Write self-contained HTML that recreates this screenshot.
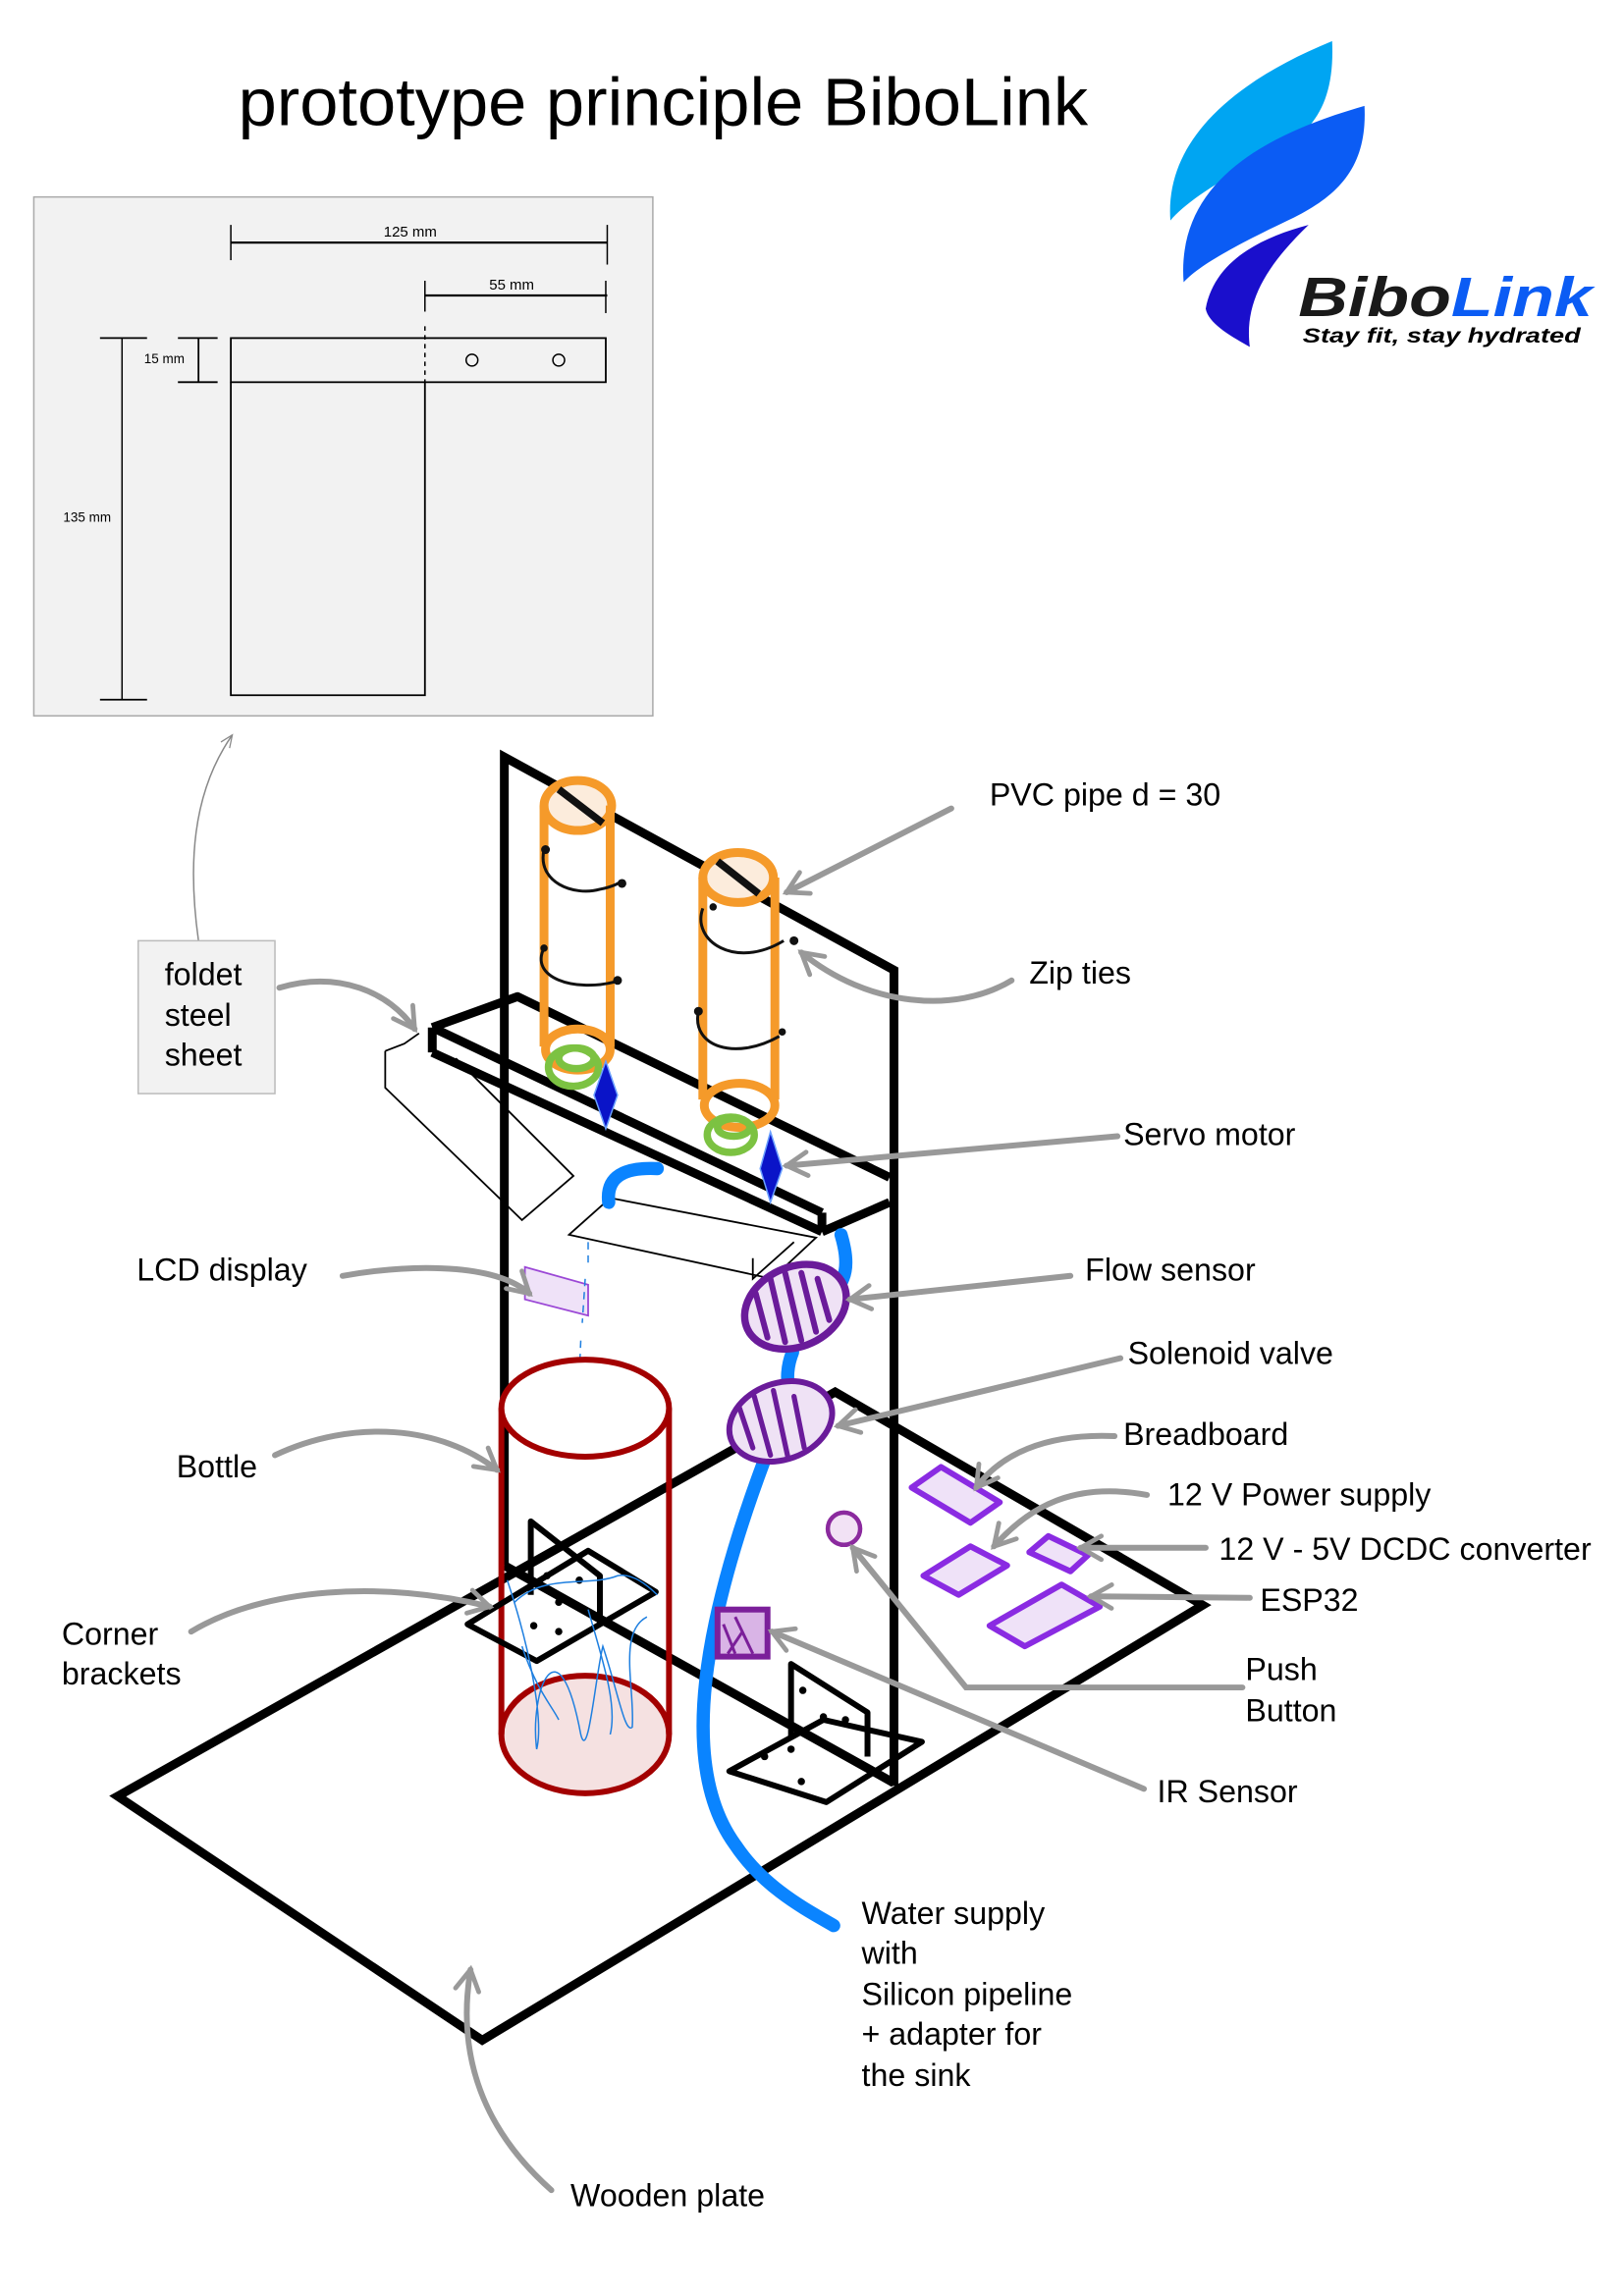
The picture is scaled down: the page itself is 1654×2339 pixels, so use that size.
<!DOCTYPE html>
<html><head><meta charset="utf-8"><style>
html,body{margin:0;padding:0;background:#fff;}
svg{display:block;}
text{font-family:"Liberation Sans",Arial,sans-serif;fill:#000;}
</style></head><body>
<svg width="1654" height="2339" viewBox="0 0 1104.5 1562" preserveAspectRatio="none" xmlns="http://www.w3.org/2000/svg">
<defs>
<marker id="ga" viewBox="0 0 10 10" refX="8" refY="5" markerWidth="5" markerHeight="5" orient="auto"><path d="M1,1 L8,5 L1,9" fill="none" stroke="#999" stroke-width="1.6" stroke-linecap="round"/></marker>
<marker id="ta" viewBox="0 0 10 10" refX="8" refY="5" markerWidth="12" markerHeight="12" orient="auto"><path d="M1,2 L8,5 L1,8" fill="none" stroke="#888" stroke-width="0.7"/></marker>
</defs>
<text x="451" y="85" font-size="46" text-anchor="middle" textLength="578" lengthAdjust="spacingAndGlyphs">prototype principle BiboLink</text>

<!-- drawing box -->
<rect x="23" y="134" width="421" height="353" fill="#f2f2f2" stroke="#aaa" stroke-width="1"/>
<g stroke="#000" fill="none">
<line x1="157" y1="165" x2="413" y2="165" stroke-width="1.5"/>
<line x1="157" y1="153" x2="157" y2="177" stroke-width="1"/>
<line x1="413" y1="153" x2="413" y2="180" stroke-width="1"/>
<line x1="289" y1="201" x2="413" y2="201" stroke-width="1.5"/>
<line x1="289" y1="191" x2="289" y2="212" stroke-width="1"/>
<line x1="412" y1="191" x2="412" y2="213" stroke-width="1"/>
<rect x="157" y="230" width="255" height="30" stroke-width="1.2"/>
<polyline points="157,260 157,473 289,473 289,260" stroke-width="1.2"/>
<line x1="289" y1="222" x2="289" y2="260" stroke-width="1" stroke-dasharray="3,3"/>
<circle cx="321" cy="245" r="4" stroke-width="1"/>
<circle cx="380" cy="245" r="4" stroke-width="1"/>
<line x1="135" y1="230" x2="135" y2="260" stroke-width="1.2"/>
<line x1="121" y1="230" x2="148" y2="230" stroke-width="1.2"/>
<line x1="121" y1="260" x2="148" y2="260" stroke-width="1.2"/>
<line x1="83" y1="230" x2="83" y2="476" stroke-width="1"/>
<line x1="68" y1="230" x2="100" y2="230" stroke-width="1.2"/>
<line x1="68" y1="476" x2="100" y2="476" stroke-width="1.2"/>
</g>
<text x="279" y="161" font-size="10" text-anchor="middle">125 mm</text>
<text x="348" y="197" font-size="10" text-anchor="middle">55 mm</text>
<text x="98" y="247" font-size="9">15 mm</text>
<text x="43" y="355" font-size="9">135 mm</text>

<!-- logo -->
<path d="M796,150 C792,95 840,55 906,28 C908,72 892,92 862,106 C830,122 806,138 796,150Z" fill="#00a5f2"/>
<path d="M805,192 C800,125 858,92 928,72 C930,112 912,132 880,148 C842,166 816,180 805,192Z" fill="#0b5cf4"/>
<path d="M820,210 C826,178 856,162 890,153 C862,180 846,205 850,236 C836,228 822,220 820,210Z" fill="#1a0fcc"/>
<text x="883" y="215" font-size="38" font-weight="bold" font-style="italic" textLength="200" lengthAdjust="spacingAndGlyphs"><tspan fill="#1a1a1a">Bibo</tspan><tspan fill="#0b5cf4">Link</tspan></text>
<text x="886" y="233" font-size="14" font-weight="bold" font-style="italic" fill="#222" textLength="189" lengthAdjust="spacingAndGlyphs">Stay fit, stay hydrated</text>

<!-- base plate -->
<polygon points="80,1222 568,947 818,1092 328,1388" fill="none" stroke="#000" stroke-width="6" stroke-linejoin="miter"/>
<!-- back panel -->
<polyline points="343,1065 343,515 608,660 608,1215" fill="none" stroke="#000" stroke-width="6"/>
<line x1="343" y1="1065" x2="608" y2="1213" stroke="#000" stroke-width="6"/>

<!-- thin sheets -->
<g fill="none" stroke="#000" stroke-width="1.2">
<polyline points="262,715 262,740 355,830 390,800 310,720"/>
<polyline points="262,715 275,710 285,703"/>
<polygon points="387,840 415,815 555,842 525,870"/>
<polyline points="512,856 512,870 540,845"/>
</g>
<!-- shelf -->
<g fill="none" stroke="#000" stroke-width="6" stroke-linejoin="round">
<polyline points="294,699 352,678 605,801"/>
<line x1="294" y1="699" x2="559" y2="825"/>
<line x1="294" y1="716" x2="559" y2="838"/>
<line x1="294" y1="699" x2="294" y2="716"/>
<line x1="559" y1="825" x2="559" y2="838"/>
<line x1="559" y1="838" x2="605" y2="818"/>
</g>

<!-- pipes -->
<g fill="none" stroke="#f59a2a" stroke-width="6">
<ellipse cx="393" cy="548" rx="23" ry="17" fill="#fcecdc"/>
<line x1="370" y1="548" x2="370" y2="712"/>
<line x1="415" y1="548" x2="415" y2="712"/>
<ellipse cx="393" cy="714" rx="22" ry="14"/>
<ellipse cx="502" cy="597" rx="24" ry="17" fill="#fcecdc"/>
<line x1="478" y1="597" x2="478" y2="748"/>
<line x1="527" y1="597" x2="527" y2="748"/>
<ellipse cx="503" cy="752" rx="24" ry="15"/>
</g>
<line x1="380" y1="537" x2="410" y2="560" stroke="#111" stroke-width="5"/>
<line x1="488" y1="586" x2="516" y2="608" stroke="#111" stroke-width="5"/>
<g fill="none" stroke="#7cc242" stroke-width="5">
<ellipse cx="390" cy="726" rx="17" ry="13"/><ellipse cx="392" cy="720" rx="12" ry="7"/>
<ellipse cx="497" cy="772" rx="16" ry="12"/><ellipse cx="499" cy="767" rx="11" ry="6"/>
</g>
<!-- zip ties -->
<g fill="none" stroke="#111" stroke-width="2">
<path d="M370,578 C365,600 390,610 408,605 C418,603 422,600 422,600"/>
<path d="M370,645 C360,665 390,675 418,668"/>
<path d="M478,618 C470,640 500,660 533,640"/>
<path d="M475,688 C470,712 500,722 530,705"/>
</g>
<g fill="#111"><circle cx="371" cy="578" r="3"/><circle cx="423" cy="601" r="3"/><circle cx="370" cy="645" r="2.5"/><circle cx="420" cy="667" r="3"/><circle cx="485" cy="617" r="2.5"/><circle cx="540" cy="640" r="3"/><circle cx="475" cy="688" r="3"/><circle cx="532" cy="702" r="2.5"/></g>
<!-- servos -->
<polygon points="412,722 420,745 412,768 404,745" fill="#0a14c8" stroke="#6aa0ff" stroke-width="1"/>
<polygon points="524,770 532,795 524,818 517,795" fill="#0a14c8" stroke="#6aa0ff" stroke-width="1"/>
<!-- blue pipes -->
<g fill="none" stroke="#0a84ff" stroke-width="9" stroke-linecap="round">
<path d="M414,818 C412,800 425,794 447,795"/>
<path d="M572,840 C578,860 576,872 564,882"/>
<path d="M539,920 C535,930 535,940 537,945"/>
<path d="M520,993 C480,1100 460,1200 500,1255 C520,1285 550,1300 567,1310"/>
</g>
<!-- LCD -->
<polygon points="357,862 400,874 400,895 357,884" fill="#efe2f8" stroke="#9b48d6" stroke-width="1.2"/>
<path d="M400,845 L400,860 M398,870 L396,900 M395,912 L394,935" stroke="#1e7fe0" stroke-width="1" stroke-dasharray="5,4" fill="none"/>
<!-- flow sensor -->
<g transform="rotate(-25 541 889)">
<ellipse cx="541" cy="889" rx="36" ry="27" fill="#efe2f5" stroke="#6a1b9a" stroke-width="5"/>
</g>
<g stroke="#6a1b9a" stroke-width="4" stroke-linecap="round">
<line x1="514" y1="880" x2="522" y2="910"/><line x1="524" y1="870" x2="534" y2="913"/><line x1="534" y1="866" x2="545" y2="912"/><line x1="545" y1="866" x2="555" y2="906"/><line x1="556" y1="870" x2="564" y2="898"/>
</g>
<!-- solenoid -->
<g transform="rotate(-20 531 967)">
<ellipse cx="531" cy="967" rx="36" ry="26" fill="#efe2f5" stroke="#6a1b9a" stroke-width="4"/>
</g>
<g stroke="#6a1b9a" stroke-width="3.5" stroke-linecap="round">
<line x1="503" y1="958" x2="512" y2="985"/><line x1="513" y1="950" x2="524" y2="990"/><line x1="526" y1="946" x2="536" y2="992"/><line x1="540" y1="950" x2="547" y2="985"/>
</g>
<!-- bottle -->
<g fill="none" stroke="#a30000" stroke-width="4">
<ellipse cx="398" cy="1180" rx="57" ry="40" fill="#f5e1e1"/>
<line x1="341" y1="958" x2="341" y2="1180"/>
<line x1="455" y1="958" x2="455" y2="1180"/>
<ellipse cx="398" cy="958" rx="57" ry="33" fill="#fff"/>
</g>
<!-- corner brackets -->
<g fill="none" stroke="#000" stroke-width="4" stroke-linejoin="round">
<polygon points="318,1105 400,1055 446,1083 365,1130"/>
<polyline points="361,1085 361,1035 408,1072 408,1105"/>
<polygon points="496,1205 560,1170 627,1185 562,1226"/>
<polyline points="538,1182 538,1132 590,1165 590,1195"/>
</g>
<g fill="#000"><circle cx="372" cy="1072" r="2.5"/><circle cx="380" cy="1090" r="2.5"/><circle cx="394" cy="1075" r="2.5"/><circle cx="363" cy="1106" r="2.5"/><circle cx="380" cy="1110" r="2.5"/><circle cx="546" cy="1150" r="2.5"/><circle cx="560" cy="1168" r="2.5"/><circle cx="575" cy="1170" r="2.5"/><circle cx="520" cy="1195" r="2.5"/><circle cx="538" cy="1190" r="2.5"/><circle cx="545" cy="1212" r="2.5"/></g>
<!-- scribbles -->
<g fill="none" stroke="#1e7fe0" stroke-width="1">
<path d="M345,1075 C360,1120 370,1170 365,1190 C360,1150 380,1100 395,1180 C400,1200 405,1140 410,1120 C420,1150 425,1180 430,1175 C432,1150 420,1110 440,1100"/>
<path d="M350,1090 C370,1070 400,1080 420,1072 C430,1070 440,1078 447,1085"/>
<path d="M355,1120 C365,1150 375,1160 380,1170 M400,1095 C410,1130 420,1160 415,1180"/>
</g>
<!-- push button / IR -->
<circle cx="574" cy="1040" r="11" fill="#f2e2f5" stroke="#8b2a9e" stroke-width="3"/>
<rect x="488" y="1095" width="34" height="32" fill="#d9b4e6" stroke="#7b1f9a" stroke-width="4"/>
<path d="M492,1105 L500,1125 M500,1100 L512,1125 M505,1110 L495,1125" stroke="#7b1f9a" stroke-width="2"/>
<!-- boards -->
<g fill="#efe2f8" stroke="#8a2be2" stroke-width="4" stroke-linejoin="round">
<polygon points="620,1012 640,998 680,1022 660,1036"/>
<polygon points="628,1072 660,1052 685,1065 652,1085"/>
<polygon points="700,1056 713,1045 740,1058 728,1069"/>
<polygon points="673,1106 722,1078 748,1093 697,1120"/>
</g>

<!-- gray arrows -->
<g fill="none" stroke="#999" stroke-width="4" stroke-linecap="round" marker-end="url(#ga)">
<path d="M647,550 L535,607"/>
<path d="M688,667 C650,690 590,685 545,648"/>
<path d="M760,773 L535,793"/>
<path d="M728,868 L578,884"/>
<path d="M762,924 L570,970"/>
<path d="M758,977 C710,975 680,990 664,1012"/>
<path d="M780,1017 C730,1008 700,1025 676,1052"/>
<path d="M820,1053 L735,1053"/>
<path d="M850,1087 L742,1086"/>
<path d="M845,1148 L657,1148 L580,1053"/>
<path d="M778,1217 L525,1110"/>
<path d="M375,1490 C330,1450 310,1400 320,1340"/>
<path d="M190,672 C230,660 265,675 282,700"/>
<path d="M233,868 C290,858 340,862 360,880"/>
<path d="M187,990 C240,965 300,970 338,1000"/>
<path d="M130,1110 C180,1080 260,1075 333,1093"/>
</g>
<path d="M135,640 C128,590 130,540 158,500" fill="none" stroke="#888" stroke-width="1" marker-end="url(#ta)"/>

<!-- labels -->
<rect x="94" y="640" width="93" height="104" fill="#f2f2f2" stroke="#bbb" stroke-width="1"/>
<g font-size="21.5">
<text x="112" y="670">foldet</text><text x="112" y="698">steel</text><text x="112" y="725">sheet</text>
<text x="673" y="548">PVC pipe d = 30</text>
<text x="700" y="669">Zip ties</text>
<text x="764" y="779">Servo motor</text>
<text x="738" y="871">Flow sensor</text>
<text x="767" y="928">Solenoid valve</text>
<text x="764" y="983">Breadboard</text>
<text x="794" y="1024">12 V Power supply</text>
<text x="829" y="1061">12 V - 5V DCDC converter</text>
<text x="857" y="1096">ESP32</text>
<text x="847" y="1143">Push</text><text x="847" y="1171">Button</text>
<text x="787" y="1226">IR Sensor</text>
<text x="586" y="1309">Water supply</text><text x="586" y="1336">with</text><text x="586" y="1364">Silicon pipeline</text><text x="586" y="1391">+ adapter for</text><text x="586" y="1419">the sink</text>
<text x="388" y="1501">Wooden plate</text>
<text x="93" y="871">LCD display</text>
<text x="120" y="1005">Bottle</text>
<text x="42" y="1119">Corner</text><text x="42" y="1146">brackets</text>
</g>
</svg>
</body></html>
